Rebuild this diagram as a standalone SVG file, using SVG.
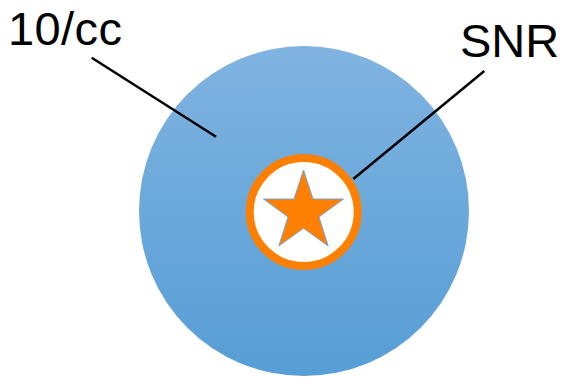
<svg xmlns="http://www.w3.org/2000/svg" width="565" height="377" viewBox="0 0 565 377">
  <style>
    .label { font-family: "Liberation Sans", Arial, sans-serif; font-size: 47px; fill: #000; }
    .leader { stroke: #000; stroke-width: 2.5; fill: none; }
  </style>
  <defs>
    <linearGradient id="bodyFill" x1="0" y1="0" x2="0" y2="1">
      <stop offset="0" stop-color="#80b3e0"/>
      <stop offset="1" stop-color="#569ed6"/>
    </linearGradient>
  </defs>
  <rect width="565" height="377" fill="#fff"/>

  <!-- outer region -->
  <g id="region">
    <circle cx="304" cy="211" r="165" fill="url(#bodyFill)"/>
  </g>

  <!-- central source marker -->
  <g id="source">
    <circle cx="303.7" cy="212" r="54" fill="#fff" stroke="#ff7f00" stroke-width="8"/>
    <polygon fill="#ff7f00" stroke="#6fa8dc" stroke-width="1"
      points="303.5,170 313,199 343.5,199 319,217 328.2,246 303.5,228.3 278.8,246 288,217 263.5,199 294,199"/>
  </g>

  <!-- leader lines -->
  <g id="connectors">
    <line class="leader" x1="91.7" y1="57.7" x2="216" y2="136.7"/>
    <line class="leader" x1="484.3" y1="71" x2="353.3" y2="179"/>
  </g>

  <g id="label-density">
    <text class="label" x="8" y="45" textLength="114">10/cc</text>
  </g>
  <g id="label-snr">
    <text class="label" x="460" y="56.7">SNR</text>
  </g>
</svg>
